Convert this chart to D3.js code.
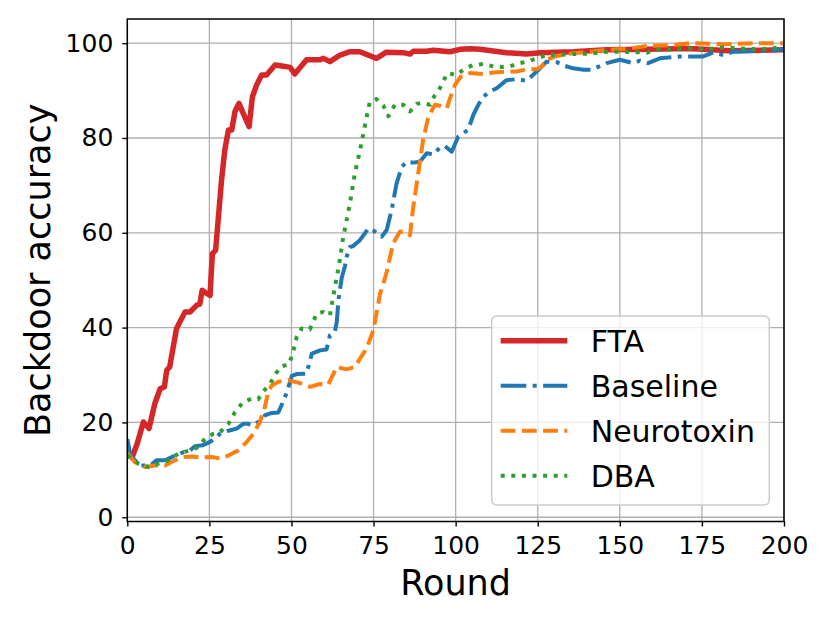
<!DOCTYPE html>
<html>
<head>
<meta charset="utf-8">
<script src="https://cdn.jsdelivr.net/npm/d3@7"></script>
<style>
  html, body { margin: 0; padding: 0; background: #fff; }
  svg { display: block; font-family: "DejaVu Sans", sans-serif; }
</style>
</head>
<body>
<svg id="chart" width="830" height="623"></svg>
<script>
// values (round, accuracy %)
const ftaRounds = [0, 1.5, 3, 4.9, 6.6, 8.4, 10, 11.3, 12, 12.9, 15, 16, 17.6, 19.1, 21.1, 22.1, 22.8, 24.2, 25.2,
  25.9, 26.9, 28.7, 29.7, 30.8, 31.8, 32.8, 34, 35.3, 37.1, 38.1, 39.4, 40.9, 42.4, 45, 48, 49.6, 51, 54.6, 58.7,
  59.7, 61.7, 64.8, 67.8, 70.8, 75.9, 78.9, 84, 86.1, 87.1, 91.2, 93.2, 98.3, 101.3, 104.4, 107.4, 115.5, 121.6,
  125.7, 135.8, 146, 158.2, 171.3, 183.5, 200];
const ftaAcc = [13.5, 12.7, 15.5, 20.1, 18.7, 24, 27.1, 27.5, 31, 31.7, 39.8, 41.2, 43.3, 43.3, 44.7, 45, 47.9, 47.2,
  46.8, 55.6, 56.3, 71.1, 77.5, 81.7, 81.7, 85.6, 87.3, 85.2, 82.4, 88.7, 91.2, 93.3, 93.3, 95.4, 95.1, 94.9, 93.5,
  96.5, 96.5, 96.8, 96.1, 97.5, 98.2, 98.2, 96.8, 98.1, 98, 97.7, 98.3, 98.3, 98.5, 98.2, 98.7, 98.8, 98.7, 98,
  97.7, 98, 98.2, 98.6, 98.7, 98.9, 98.4, 98.6];

const baselineRounds = [0, 1, 3.9, 7, 8.9, 11.5, 14.5, 17, 19, 20.6, 23, 25.2, 26.7, 28.2, 30.5, 33.3, 35.3, 36.8,
  38.4, 39.9, 41.9, 44, 46, 47.2, 48.5, 50.1, 51.6, 54.6, 56.2, 58.7, 60.7, 61.7, 63.2, 63.8, 64.3, 65.3, 66.3,
  66.8, 67.8, 68.8, 70.9, 73.4, 74.9, 77.5, 79, 80.5, 82, 83.6, 85.1, 87.1, 89.1, 91.2, 93.2, 95.2, 96.7, 98.8,
  100.8, 103.8, 105.4, 106.9, 108.4, 110.4, 112.5, 115.5, 118.5, 121.6, 124.7, 127.7, 130.8, 133.3, 135.8, 138.9,
  141.4, 146, 150, 154.1, 156.1, 158.6, 162.2, 168.3, 175.4, 178.4, 181.5, 184.5, 188.5, 194.6, 200];
const baselineAcc = [16.5, 13, 10.9, 10.9, 12, 12, 13, 13.7, 14, 15, 15.2, 15.9, 16.6, 17.6, 18.2, 18.7, 19.7, 19.7,
  19.4, 20.1, 21.5, 22, 22.1, 24, 26.2, 29.8, 30.2, 30.3, 34.5, 35.2, 35.4, 38.4, 39.1, 41.2, 45.8, 50.5, 53,
  54.9, 57, 57.2, 58.5, 60.9, 60.5, 59.2, 60.6, 64.8, 70.4, 73.9, 75, 74.8, 75, 76.8, 76.5, 78, 78.3, 77.1,
  80.3, 81.7, 84.9, 87, 88.7, 89.8, 90.5, 92.2, 92.4, 92.1, 94, 96.1, 96, 95.2, 94.7, 94.4,
  94.4, 95.8, 96.5, 95.8, 96.3, 95.8, 96.8, 97.2, 97.2, 98, 97.5, 98.2, 98.3, 98.4, 98.7];

const neurotoxinRounds = [0, 2.3, 5.4, 8.4, 11.5, 14.5, 17, 19.6, 22.6, 25.7, 28.2, 30.8, 33.8, 36.4, 38.4, 40.4,
  41.9, 42.9, 44, 46, 49.1, 52.1, 55.6, 58.7, 61.2, 63.8, 66.8, 69.3, 70.9, 72.9, 74.9, 75.9, 77, 78, 79, 81, 83,
  84.6, 86.1, 87.1, 88.6, 90.1, 91.7, 93.7, 95.2, 97.3, 98.3, 99.8, 101.5, 104.4, 108.4, 111.5, 115.5, 118.5,
  121.6, 124.7, 126.2, 127.7, 130.8, 135.8, 140.9, 146, 152.1, 158.2, 166.3, 171.3, 181.5, 191.6, 200];
const neurotoxinAcc = [13.5, 11.6, 10.6, 10.9, 10.9, 12, 12.7, 12.8, 12.6, 12.7, 12.4, 13, 14.1, 15.9, 17.6, 20.1,
  23.3, 26.4, 27.8, 28.6, 28.9, 28.4, 27.5, 28.1, 28, 31.7, 31.2, 31.7, 33.5, 35.6, 39.4, 43, 47.2, 49.3, 51.8, 57.8, 60.2,
  60.3, 59.5, 65.5, 72.5, 79.6, 84.5, 87, 86.8, 86.3, 88.4, 91.2, 92.9, 93.7, 93.5, 93.8, 94, 94,
  94.5, 94.5, 95.1, 96.5, 97.3, 97.9, 98.2, 98.6, 98.8, 99.4, 99.6, 100, 99.8, 100, 100];

const dbaRounds = [0, 3.4, 6.3, 9.4, 12.5, 15.5, 19, 21.6, 23.7, 26.2, 28.2, 30.8, 32.8, 35.3, 37.9, 39.9, 40.9,
  43.5, 46.5, 49.3, 50.6, 51.6, 53.1, 55.6, 57.7, 59.7, 61.7, 62.7, 63.8, 64.3, 65.8, 67.8, 69.3, 70.9, 71.9, 72.9,
  73.9, 75.9, 78, 79.5, 81.5, 84, 86.1, 88.1, 89.6, 92.2, 93.7, 95.2, 97.5, 100, 102, 103.9, 105.4, 108.4, 111.5,
  114, 116.5, 119.6, 121.6, 124.7, 127.7, 130.8, 135.8, 140.9, 146, 151, 158.2, 161.2, 166.3, 171.3, 176.4, 181.5,
  186.5, 191.6, 196.7, 200];
const dbaAcc = [13, 11.3, 10.6, 11.3, 12, 13.4, 14.1, 14.8, 16.6, 17.6, 17.9, 19.7, 22.2, 24.3, 25, 24.9, 26.1,
  28.2, 31.7, 32.3, 35.2, 38, 39.8, 39.6, 43, 43.3, 42.6, 46.5, 50.7, 52.5, 59.2, 66.2, 72.5, 77.5, 81, 84.5,
  87.7, 88.2, 86.8, 84.6, 87, 87, 85.6, 87.2, 87.4, 87, 89.1, 90.5, 93.7, 93.3, 94.2, 95, 95.4, 95.6, 95.1,
  95, 95.1, 95.8, 96.1, 96.8, 97.5, 97.5, 97.7, 97.8, 98.2, 98.2, 98, 98.6, 98.7, 98.9, 98.7, 99.1,
  98.9, 98.7, 98.9, 99.5];

const seriesNames = ['FTA', 'Baseline', 'Neurotoxin', 'DBA'];
const xTicks = [0, 25, 50, 75, 100, 125, 150, 175, 200];
const yTicks = [0, 20, 40, 60, 80, 100];

const seriesStyle = [
  { color: '#d62728', width: 5.5, dash: null },
  { color: '#1f77b4', width: 4, dash: '25.6,6.4,4,6.4' },
  { color: '#ff7f0e', width: 4, dash: '14.8,6.4' },
  { color: '#2ca02c', width: 4, dash: '4,6.6' },
];

const series = [
  [ftaRounds, ftaAcc],
  [baselineRounds, baselineAcc],
  [neurotoxinRounds, neurotoxinAcc],
  [dbaRounds, dbaAcc],
].map(([xs, ys], i) => ({
  name: seriesNames[i],
  values: xs.map((x, j) => [x, ys[j]]),
  style: seriesStyle[i],
}));

const svg = d3.select('#chart');
const plot = { left: 127.3, right: 784, top: 19, bottom: 521.5 };

const x = d3.scaleLinear().domain([0, 200]).range([plot.left, plot.right]);
const y = d3.scaleLinear().domain([-0.9, 105.1]).range([plot.bottom, plot.top]);

svg.append('clipPath').attr('id', 'plotclip')
  .append('rect')
  .attr('x', plot.left).attr('y', plot.top)
  .attr('width', plot.right - plot.left).attr('height', plot.bottom - plot.top);

// grid
const grid = svg.append('g').attr('stroke', '#b0b0b0').attr('stroke-width', 1.3);
grid.selectAll('.vgrid').data(xTicks).enter().append('line')
  .attr('x1', d => x(d)).attr('x2', d => x(d))
  .attr('y1', plot.top).attr('y2', plot.bottom);
grid.selectAll('.hgrid').data(yTicks).enter().append('line')
  .attr('y1', d => y(d)).attr('y2', d => y(d))
  .attr('x1', plot.left).attr('x2', plot.right);

// curves
const line = d3.line().x(d => x(d[0])).y(d => y(d[1]));
svg.append('g').attr('clip-path', 'url(#plotclip)')
  .selectAll('path').data(series).enter().append('path')
  .attr('d', d => line(d.values))
  .attr('fill', 'none')
  .attr('stroke', d => d.style.color)
  .attr('stroke-width', d => d.style.width)
  .attr('stroke-dasharray', d => d.style.dash)
  .attr('stroke-linejoin', 'round')
  .attr('stroke-linecap', d => (d.style.dash ? 'butt' : 'square'));

// axes
const xAxis = svg.append('g')
  .attr('transform', `translate(0,${plot.bottom})`)
  .call(d3.axisBottom(x).tickValues(xTicks).tickSize(5).tickPadding(10).tickSizeOuter(0));
const yAxis = svg.append('g')
  .attr('transform', `translate(${plot.left},0)`)
  .call(d3.axisLeft(y).tickValues(yTicks).tickSize(5).tickPadding(9).tickSizeOuter(0));
[xAxis, yAxis].forEach((g) => {
  g.select('.domain').remove();
  g.selectAll('.tick line').attr('stroke', '#000').attr('stroke-width', 1.4);
  g.selectAll('.tick text').attr('fill', '#000')
    .style('font-family', '"DejaVu Sans", sans-serif').style('font-size', '25px');
});

// frame
svg.append('rect')
  .attr('x', plot.left).attr('y', plot.top)
  .attr('width', plot.right - plot.left).attr('height', plot.bottom - plot.top)
  .attr('fill', 'none').attr('stroke', '#000').attr('stroke-width', 1.5);

// axis labels
svg.append('text')
  .attr('x', (plot.left + plot.right) / 2).attr('y', 595)
  .attr('text-anchor', 'middle').style('font-size', '35px')
  .text('Round');
svg.append('text')
  .attr('transform', `translate(50,${(plot.top + plot.bottom) / 2}) rotate(-90)`)
  .attr('text-anchor', 'middle').style('font-size', '35px')
  .text('Backdoor accuracy');

// legend
const legend = svg.append('g');
legend.append('rect')
  .attr('x', 491.7).attr('y', 316).attr('width', 277.6).attr('height', 189)
  .attr('rx', 5).attr('ry', 5)
  .attr('fill', '#fff').attr('fill-opacity', 0.8)
  .attr('stroke', '#cccccc').attr('stroke-width', 1.5);
const rows = legend.selectAll('.row').data(series).enter().append('g')
  .attr('transform', (d, i) => `translate(0,${340.7 + i * 45})`);
rows.append('line')
  .attr('x1', 500.7).attr('x2', 567.3)
  .attr('stroke', d => d.style.color)
  .attr('stroke-width', d => d.style.width)
  .attr('stroke-dasharray', d => d.style.dash);
rows.append('text')
  .attr('x', 590.7).attr('y', 11)
  .style('font-size', '30px')
  .text(d => d.name);
</script>
</body>
</html>
